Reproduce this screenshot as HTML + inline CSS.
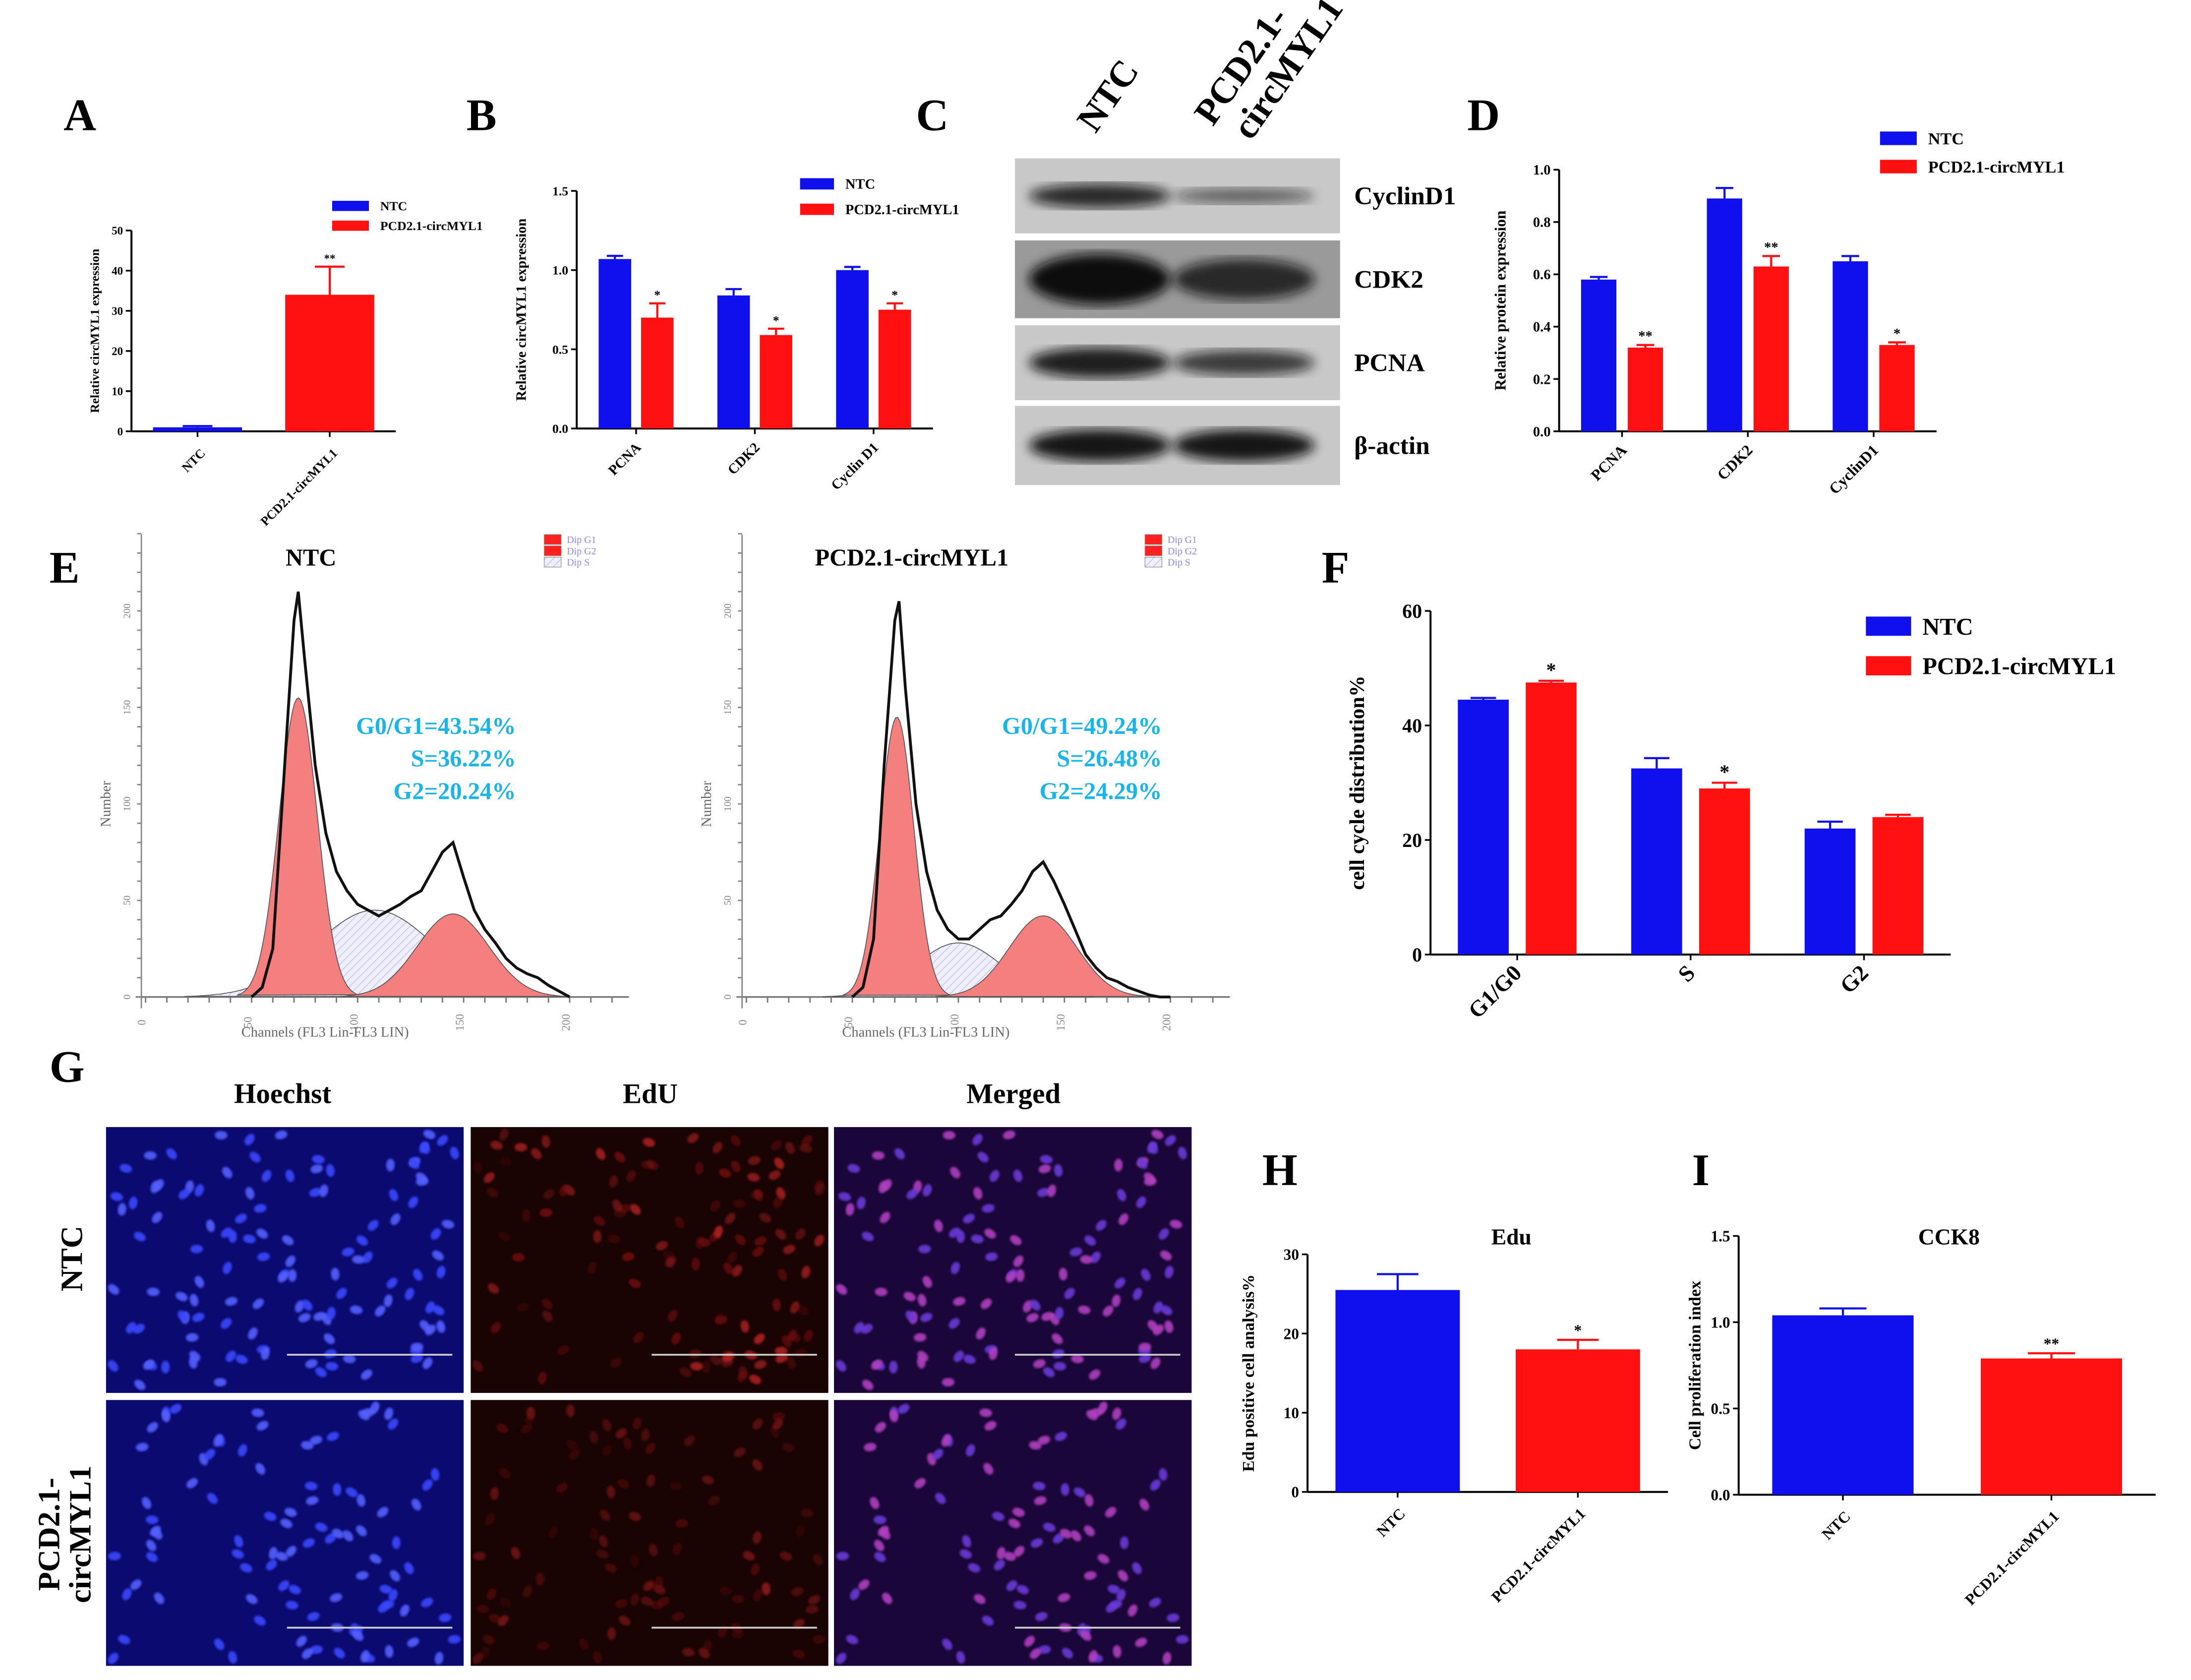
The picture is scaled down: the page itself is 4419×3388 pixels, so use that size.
<!DOCTYPE html>
<html><head><meta charset="utf-8">
<style>
html,body{margin:0;padding:0;background:#fff;}
svg{display:block;}
text{font-family:"Liberation Serif",serif;}
</style></head>
<body>
<svg id="fig" xmlns="http://www.w3.org/2000/svg" width="4419" height="3388" viewBox="0 0 1550 1188" preserveAspectRatio="none">
<defs>
<pattern id="hatchR" patternUnits="userSpaceOnUse" width="4" height="4" patternTransform="rotate(45)"><rect width="4" height="4" fill="#f27a7a"/><line x1="0" y1="0" x2="0" y2="4" stroke="#b03030" stroke-width="0.8"/></pattern>
<pattern id="hatchB" patternUnits="userSpaceOnUse" width="4" height="4" patternTransform="rotate(45)"><rect width="4" height="4" fill="#eeeefc"/><line x1="0" y1="0" x2="0" y2="4" stroke="#b8b8e0" stroke-width="0.8"/></pattern>
<filter id="blur2"><feGaussianBlur stdDeviation="4"/></filter>
<filter id="blur1"><feGaussianBlur stdDeviation="0.8"/></filter>
</defs>
<g id="root"></g>
</svg>
<script>
// ---------- Data ----------
const aCats=["NTC","PCD2.1-circMYL1"];
const aVals=[1,34];
const aErr=[0.3,7];
const aTicks=[0,10,20,30,40,50];

const bCats=["PCNA","CDK2","Cyclin D1"];
const bNTC=[1.07,0.84,1.00];
const bPCD=[0.70,0.59,0.75];
const bErrN=[0.02,0.04,0.02];
const bErrP=[0.09,0.04,0.04];
const bStars=["*","*","*"];
const bTicks=[0,0.5,1.0,1.5];

const dCats=["PCNA","CDK2","CyclinD1"];
const dNTC=[0.58,0.89,0.65];
const dPCD=[0.32,0.63,0.33];
const dErrN=[0.01,0.04,0.02];
const dErrP=[0.01,0.04,0.01];
const dStars=["**","**","*"];
const dTicks=[0,0.2,0.4,0.6,0.8,1.0];

const fCats=["G1/G0","S","G2"];
const fNTC=[44.5,32.5,22];
const fPCD=[47.5,29,24];
const fErrN=[0.3,1.8,1.2];
const fErrP=[0.3,1.0,0.4];
const fStars=["*","*",""];
const fTicks=[0,20,40,60];

const hCats=["NTC","PCD2.1-circMYL1"];
const hVals=[25.5,18];
const hErr=[2,1.2];
const hTicks=[0,10,20,30];

const iCats=["NTC","PCD2.1-circMYL1"];
const iVals=[1.04,0.79];
const iErr=[0.04,0.03];
const iTicks=[0,0.5,1.0,1.5];

const flowCh=[50,55,60,65,70,72,75,80,85,90,95,100,105,110,115,120,125,130,135,140,145,150,155,160,165,170,175,180,185,190,195,200];
const flowNTC=[0,5,25,110,195,210,175,120,85,65,55,48,45,42,45,48,52,55,65,75,80,62,45,35,28,20,15,12,10,6,3,0];
const flowPCD=[0,5,30,120,195,205,160,100,65,45,35,30,30,35,40,42,48,55,65,70,60,48,35,22,15,10,8,5,3,1,0,0];
const flowPeaksNTC={g1:[72,9,155],s:[108,28,45],g2:[145,17,43]};
const flowPeaksPCD={g1:[71,8,145],s:[100,20,28],g2:[140,16,42]};
const flowTicksX=[0,50,100,150,200];
const flowTicksY=[0,50,100,150,200];

const BLUE="#1010ee", RED="#ff1111";
const NS="http://www.w3.org/2000/svg";
const root=document.getElementById('root');
function mk(tag,attrs,parent,txt){const e=document.createElementNS(NS,tag);for(const k in attrs)e.setAttribute(k,attrs[k]);if(txt!==undefined)e.textContent=txt;(parent||root).appendChild(e);return e;}
function label(x,y,t,size,name,opts){opts=opts||{};const e=mk('text',{x:x,y:y,'font-size':size,'font-weight':opts.w||'bold','text-anchor':opts.a||'start',fill:opts.fill||'#000'},opts.p,t);


if(opts.rot)e.setAttribute('transform','rotate('+opts.rot+' '+x+' '+y+')');return e;}

function yAxis(g,x,y0,y1,ticks,fmt,fs,title,titleX){
 const max=ticks[ticks.length-1];
 const sy=v=>y0-(v/max)*(y0-y1);
 mk('line',{x1:x,y1:y0,x2:x,y2:y1,stroke:'#000','stroke-width':1.4},g);
 ticks.forEach(t=>{mk('line',{x1:x-4,y1:sy(t),x2:x,y2:sy(t),stroke:'#000','stroke-width':1.2},g);
  label(x-6,sy(t)+fs*0.35,fmt(t),fs,'y-tick-label',{a:'end',p:g});});
 if(title)label(titleX,(y0+y1)/2,title,fs+1,'y-axis-title',{a:'middle',rot:-90,p:g});
 return sy;
}
function errBar(g,cx,yv,ye,w,color){mk('line',{x1:cx,y1:yv,x2:cx,y2:ye,stroke:color,'stroke-width':1.5},g);mk('line',{x1:cx-w,y1:ye,x2:cx+w,y2:ye,stroke:color,'stroke-width':1.5},g);}

function grouped(name,x,y0,y1,xEnd,cats,nv,pv,en,ep,stars,ticks,fmt,fs,title,titleX,bw,gap,catFs,catRot){
 const g=mk('g',{});
 const sy=yAxis(g,x,y0,y1,ticks,fmt,fs,title,titleX);
 mk('line',{x1:x,y1:y0,x2:xEnd,y2:y0,stroke:'#000','stroke-width':1.4},g);
 const gw=(xEnd-x)/cats.length;
 cats.forEach((c,i)=>{
  const cx=x+gw*(i+0.5);
  const bx1=cx-gap/2-bw, bx2=cx+gap/2;
  const r1=mk('rect',{x:bx1,y:sy(nv[i]),width:bw,height:y0-sy(nv[i]),fill:BLUE},g);
  
  
  const r2=mk('rect',{x:bx2,y:sy(pv[i]),width:bw,height:y0-sy(pv[i]),fill:RED},g);
  
  
  errBar(g,bx1+bw/2,sy(nv[i]),sy(nv[i]+en[i]),bw/4,BLUE);
  errBar(g,bx2+bw/2,sy(pv[i]),sy(pv[i]+ep[i]),bw/4,RED);
  if(stars[i])label(bx2+bw/2,sy(pv[i]+ep[i])-3,stars[i],fs,'significance-star',{a:'middle',p:g});
  mk('line',{x1:cx,y1:y0,x2:cx,y2:y0+4,stroke:'#000','stroke-width':1.2},g);
  label(cx+4,y0+14,c,catFs,'x-tick-label',{a:'end',rot:catRot,p:g});
 });
 return g;
}
function single(name,x,y0,y1,xEnd,cats,vals,errs,stars,ticks,fmt,fs,title,titleX,bw,catFs){
 const g=mk('g',{});
 const sy=yAxis(g,x,y0,y1,ticks,fmt,fs,title,titleX);
 mk('line',{x1:x,y1:y0,x2:xEnd,y2:y0,stroke:'#000','stroke-width':1.4},g);
 const gw=(xEnd-x)/cats.length;
 cats.forEach((c,i)=>{
  const cx=x+gw*(i+0.5);const col=i==0?BLUE:RED;
  const r=mk('rect',{x:cx-bw/2,y:sy(vals[i]),width:bw,height:y0-sy(vals[i]),fill:col},g);
  
  
  errBar(g,cx,sy(vals[i]),sy(vals[i]+errs[i]),bw/6,col);
  if(stars[i])label(cx,sy(vals[i]+errs[i])-3,stars[i],fs,'significance-star',{a:'middle',p:g});
  mk('line',{x1:cx,y1:y0,x2:cx,y2:y0+4,stroke:'#000','stroke-width':1.2},g);
  label(cx+6,y0+16,c,catFs,'x-tick-label',{a:'end',rot:-45,p:g});
 });
 return g;
}
function legend(x,y,fs,gapY,sw,name){
 const g=mk('g',{});
 mk('rect',{x:x,y:y,width:sw,height:fs*0.8,fill:BLUE},g);label(x+sw+8,y+fs*0.75,'NTC',fs,'legend-entry-ntc',{p:g});
 mk('rect',{x:x,y:y+gapY,width:sw,height:fs*0.8,fill:RED},g);label(x+sw+8,y+gapY+fs*0.75,'PCD2.1-circMYL1',fs,'legend-entry-pcd',{p:g});
}

[["A",45,92],["B",330,92],["C",648,92],["D",1038,92],["E",35,412],["F",935,412],["G",35,765],["H",893,838],["I",1197,838]].forEach(l=>label(l[1],l[2],l[0],32,'panel-label-'+l[0].toLowerCase()));

single('panel-a-chart',93,305,163,280,aCats,aVals,aErr,["","**"],aTicks,t=>String(t),8,'Relative circMYL1 expression',70,63,9);
legend(235,142,9,14,26,'panel-a-legend');
grouped('panel-b-chart',408,303,135,660,bCats,bNTC,bPCD,bErrN,bErrP,bStars,bTicks,t=>t.toFixed(1),9,'Relative circMYL1 expression',372,23,7,10,-45);
legend(566,126,10,18,24,'panel-b-legend');
grouped('panel-d-chart',1103,305,120,1370,dCats,dNTC,dPCD,dErrN,dErrP,dStars,dTicks,t=>t.toFixed(1),10,'Relative protein expression',1065,25,8,11,-45);
legend(1330,93,12,20,26,'panel-d-legend');
grouped('panel-f-chart',1012,675,432,1380,fCats,fNTC,fPCD,fErrN,fErrP,fStars,fTicks,t=>String(t),14,'cell cycle distribution%',965,36,12,16,-45);
legend(1320,436,17,28,32,'panel-f-legend');
single('panel-h-chart',925,1055,887,1180,hCats,hVals,hErr,["","*"],hTicks,t=>String(t),11,'Edu positive cell analysis%',887,88,11);
label(1055,880,'Edu',16,'panel-h-title');
single('panel-i-chart',1230,1057,874,1525,iCats,iVals,iErr,["","**"],iTicks,t=>t.toFixed(1),11,'Cell proliferation index',1203,100,11);
label(1357,880,'CCK8',16,'panel-i-title');

(function(){
 const g=mk('g',{});
 label(775,95,'NTC',26,'lane-label-ntc',{rot:-55,p:g});
 label(858,90,'PCD2.1-',26,'lane-label-pcd-1',{rot:-55,p:g});
 label(885,100,'circMYL1',26,'lane-label-pcd-2',{rot:-55,p:g});
 const rows=[[112,165,'CyclinD1',[0.85,0.55],10],[170,225,'CDK2',[1,0.8],18],[230,283,'PCNA',[0.9,0.75],12],[287,343,'β-actin',[0.95,0.95],12]];
 rows.forEach((r,i)=>{
  mk('rect',{x:718,y:r[0],width:230,height:r[1]-r[0],fill:i==1?'#9a9a9a':'#c8c8c8'},g);
  const cy=(r[0]+r[1])/2;
  [778,880].forEach((cx,j)=>{mk('ellipse',{cx:cx,cy:cy,rx:50,ry:r[4]*r[3][j],fill:'#111',opacity:r[3][j],filter:'url(#blur2)'},g);});
  label(958,cy+6,r[2],18,'blot-label',{p:g});
 });
})();

function flow(name,x0,trace,peaks,title,texts,txtX){
 const g=mk('g',{});
 const base=705, sx=c=>x0+3+c*1.5, sy=v=>base-v*1.365;
 mk('line',{x1:x0,y1:base+8,x2:x0,y2:378,stroke:'#888','stroke-width':1},g);
 mk('line',{x1:x0-4,y1:base,x2:x0+345,y2:base,stroke:'#777','stroke-width':1.2},g);
 for(let c=0;c<=225;c+=10)mk('line',{x1:sx(c),y1:base,x2:sx(c),y2:base+4,stroke:'#777'},g);
 for(let v=0;v<=240;v+=10)mk('line',{x1:x0-3,y1:sy(v),x2:x0,y2:sy(v),stroke:'#888'},g);
 flowTicksX.forEach(t=>label(sx(t),base+18,String(t),8,'x-tick-label',{a:'middle',w:'normal',fill:'#888',p:g,rot:-90}));
 flowTicksY.forEach(t=>label(x0-8,sy(t),String(t),7,'y-tick-label',{a:'middle',w:'normal',fill:'#888',p:g,rot:-90}));
 label(x0+130,base+28,'Channels (FL3 Lin-FL3 LIN)',10,'x-axis-title',{w:'normal',fill:'#666',a:'middle',p:g});
 label(x0-22,sy(100),'Number',10,'y-axis-title',{w:'normal',fill:'#666',a:'middle',rot:-90,p:g});
 function gpath(p){let d='';for(let c=p[0]-3.2*p[1];c<=p[0]+3.2*p[1];c+=1){const v=p[2]*Math.exp(-((c-p[0])**2)/(2*p[1]*p[1]));d+=(d?'L':'M')+sx(c).toFixed(1)+','+sy(v).toFixed(1);}return d+'Z';}
 mk('path',{d:gpath(peaks.s),fill:'url(#hatchB)',stroke:'#555','stroke-width':0.6},g);
 mk('path',{d:gpath(peaks.g1),fill:'#f47f7f',stroke:'#555','stroke-width':0.6},g);
 mk('path',{d:gpath(peaks.g2),fill:'#f47f7f',stroke:'#555','stroke-width':0.6},g);
 let d='';trace.forEach((v,i)=>{d+=(i?'L':'M')+sx(flowCh[i]).toFixed(1)+','+sy(v).toFixed(1);});
 const p=mk('path',{d:d,fill:'none',stroke:'#111','stroke-width':2},g);
 
 
 label(x0+120,400,title,17,'histogram-title',{a:'middle',p:g});
 texts.forEach((t,i)=>label(x0+txtX,519+i*23,t,17,'phase-percent',{a:'end',fill:'#19b4e8',p:g}));
 const lg=x0+285;
 [['#ff2020','Dip G1'],['#ff2020','Dip G2'],['url(#hatchB)','Dip S']].forEach((e,i)=>{mk('rect',{x:lg,y:378+i*8,width:12,height:7,fill:e[0],stroke:'#888','stroke-width':0.4},g);label(lg+16,384+i*8,e[1],7,'legend-entry',{w:'normal',fill:'#8a8af0',p:g});});
}
flow('panel-e-ntc-histogram',100,flowNTC,flowPeaksNTC,'NTC',['G0/G1=43.54%','S=36.22%','G2=20.24%'],265);
flow('panel-e-pcd-histogram',525,flowPCD,flowPeaksPCD,'PCD2.1-circMYL1',['G0/G1=49.24%','S=26.48%','G2=24.29%'],297);

(function(){
 const g=mk('g',{});
 label(200,780,'Hoechst',20,'column-label-hoechst',{a:'middle',p:g});
 label(460,780,'EdU',20,'column-label-edu',{a:'middle',p:g});
 label(717,780,'Merged',20,'column-label-merged',{a:'middle',p:g});
 label(58,890,'NTC',22,'row-label-ntc',{a:'middle',rot:-90,p:g});
 label(42,1085,'PCD2.1-',22,'row-label-pcd-1',{a:'middle',rot:-90,p:g});
 label(64,1085,'circMYL1',22,'row-label-pcd-2',{a:'middle',rot:-90,p:g});
 const xs=[75,333,590], ys=[797,990], w=253, h=188;
 const bg=['#0a0a70','#1a0303','#1a0638'];
 const dot=[['#3a4aff','#5560ff'],['#b02020','#701010'],['#6a3ad8','#b040c0']];
 let seed=7;const rnd=()=>{seed=(seed*16807)%2147483647;return seed/2147483647;};
 ys.forEach((y,r)=>{xs.forEach((x,c)=>{
  mk('rect',{x:x,y:y,width:w,height:h,fill:bg[c]},g);
  seed=7+r*31;
  for(let k=0;k<(r?95:120);k++){const cx=x+5+rnd()*(w-10),cy=y+5+rnd()*(h-10);const a=rnd()*180;
   const op=c==1?(r?0.35:0.7)*rnd()+0.2:0.9;
   mk('ellipse',{cx:cx,cy:cy,rx:4.5,ry:3,fill:dot[c][k%2],opacity:op,transform:'rotate('+a+' '+cx+' '+cy+')',filter:'url(#blur1)'},g);}
  mk('line',{x1:x+w-125,y1:y+h-27,x2:x+w-8,y2:y+h-27,stroke:'#ccc','stroke-width':1.3},g);
 });});
})();
</script>
</body></html>
